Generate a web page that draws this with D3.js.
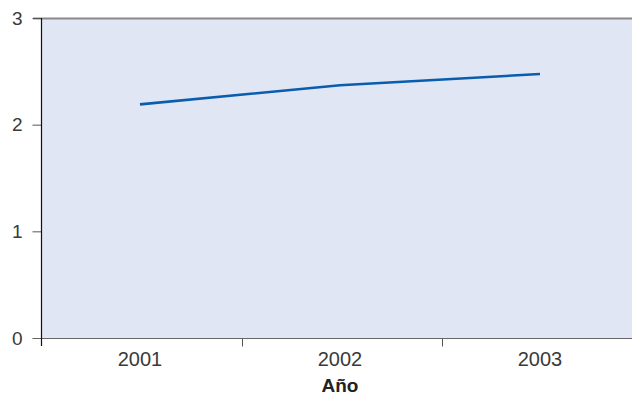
<!DOCTYPE html>
<html><head><meta charset="utf-8">
<script src="https://cdn.jsdelivr.net/npm/d3@7/dist/d3.min.js"></script>
<style>body{margin:0;background:#fff}svg{display:block}</style>
</head><body><svg id="c" width="632" height="402"></svg>
<script>
const years = ["2001", "2002", "2003"];
const values = [2.19, 2.37, 2.475];
const yTicks = [0, 1, 2, 3];
const xTitle = "Año";

const svg = d3.select("#c");
const L = 42, T = 18, R = 632, B = 338;
const x = d3.scaleBand().domain(years).range([L - 2, L + 598]).padding(0);
const y = d3.scaleLinear().domain([0, 3]).range([B, T]);
const font = "'Liberation Sans', Arial, sans-serif";

svg.append("rect").attr("x", L).attr("y", T).attr("width", R - L).attr("height", B - T).attr("fill", "#e0e6f4");

// top border
svg.append("line").attr("x1", 33).attr("x2", R).attr("y1", T + 0.5).attr("y2", T + 0.5)
  .attr("stroke", "#8a8a8a").attr("stroke-width", 2);

// y axis
const ya = svg.append("g").attr("transform", `translate(${L - 0.5},0)`)
  .call(d3.axisLeft(y).tickValues(yTicks).tickFormat(d3.format("d")).tickSize(9).tickPadding(10));
ya.select(".domain").remove();
ya.selectAll(".tick line").attr("stroke", "#555");
ya.selectAll(".tick text").attr("font-family", font).attr("font-size", 19).attr("fill", "#3a3a3a");

// x axis
const xa = svg.append("g").attr("transform", `translate(0,${B + 0.5})`)
  .call(d3.axisBottom(x).tickSize(0).tickPadding(13));
xa.select(".domain").remove();
xa.selectAll(".tick text").attr("font-family", font).attr("font-size", 20).attr("fill", "#3a3a3a");
// boundary ticks between bands
xa.selectAll(".bt").data(years.slice(1)).enter().append("line")
  .attr("x1", d => x(d) + 2.5).attr("x2", d => x(d) + 2.5).attr("y1", 0).attr("y2", 8)
  .attr("stroke", "#555");

svg.append("line").attr("x1", 33).attr("x2", R).attr("y1", B + 0.5).attr("y2", B + 0.5)
  .attr("stroke", "#666").attr("stroke-width", 1.2);
svg.append("line").attr("x1", L - 0.5).attr("x2", L - 0.5).attr("y1", T).attr("y2", B + 8)
  .attr("stroke", "#111").attr("stroke-width", 1.2);

svg.append("text").attr("x", x("2002") + x.bandwidth() / 2).attr("y", 392)
  .attr("text-anchor", "middle").attr("font-family", font).attr("font-size", 19)
  .attr("font-weight", "bold").attr("fill", "#222").text(xTitle);

const line = d3.line().x((d, i) => x(years[i]) + x.bandwidth() / 2).y(d => y(d));
svg.append("path").datum(values).attr("d", line).attr("fill", "none")
  .attr("stroke", "#0a5cad").attr("stroke-width", 2.6);
</script></body></html>
